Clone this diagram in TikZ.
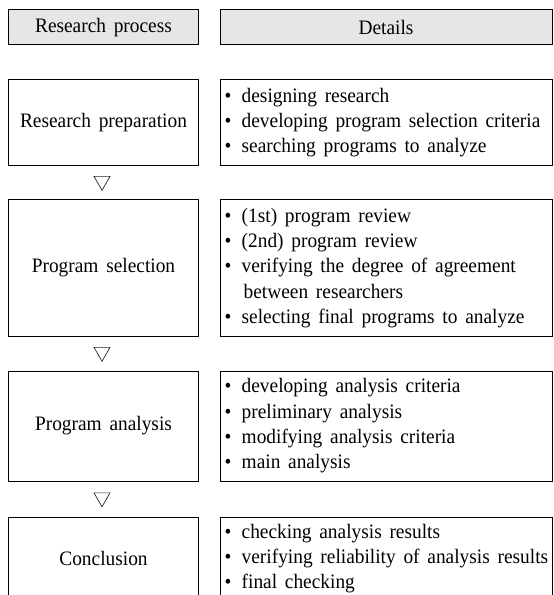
\documentclass[tikz,border=0pt]{standalone}
\usepackage{fontspec}
\setmainfont{Liberation Serif}[FakeStretch=0.945,WordSpace=1.6]
\usetikzlibrary{shapes.geometric,calc}
\definecolor{hdrfill}{RGB}{230,230,230}
\newcommand{\bul}{\makebox[17bp][l]{\textbullet}}
\newcommand{\cont}{\hspace*{19bp}}
\tikzset{
  txt/.style={font=\fontsize{20.5bp}{25.3bp}\selectfont},
  lbox/.style={draw, line width=1bp, minimum width=189bp, inner sep=0pt, txt, align=center},
  rbox/.style={draw, line width=1bp, minimum width=332bp, inner sep=0pt},
  rtxt/.style={anchor=west, inner sep=0pt, align=left, txt},
  hdr/.style={fill=hdrfill},
  tri/.style={draw=black!85, line width=0.7bp, regular polygon, regular polygon sides=3, shape border rotate=180, minimum size=18.5bp, inner sep=0pt}
}
\begin{document}
\begin{tikzpicture}[x=1bp,y=-1bp]
\useasboundingbox (0,0) rectangle (554,595);
\clip (0,0) rectangle (554,595);
% headers
\node[lbox, hdr, minimum height=35bp] (h1) at (103.5,27.5) {Research process};
\node[lbox, hdr, minimum width=332bp, minimum height=35bp] (h2) at (386,27.5) {Details};
% row 1
\node[lbox, minimum height=85bp] (b1) at (103.5,122.5) {Research preparation};
\node[rbox, minimum height=85bp] (d1) at (386,122.5) {};
\node[rtxt] (e1) at ($(d1.west)+(5,0)$) {\bul designing research\\
\bul developing program selection criteria\\
\bul searching programs to analyze};
% row 2
\node[lbox, minimum height=136bp] (b2) at (103.5,268) {Program selection};
\node[rbox, minimum height=136bp] (d2) at (386,268) {};
\node[rtxt] (e2) at ($(d2.west)+(5,0)$) {\bul (1st) program review\\
\bul (2nd) program review\\
\bul verifying the degree of agreement\\
\cont between researchers\\
\bul selecting final programs to analyze};
% row 3
\node[lbox, minimum height=110bp] (b3) at (103.5,426) {Program analysis};
\node[rbox, minimum height=110bp] (d3) at (386,426) {};
\node[rtxt] (e3) at ($(d3.west)+(5,0)$) {\bul developing analysis criteria\\
\bul preliminary analysis\\
\bul modifying analysis criteria\\
\bul main analysis};
% row 4
\node[lbox, minimum height=83bp] (b4) at (103.5,558.5) {Conclusion};
\node[rbox, minimum height=83bp] (d4) at (386,558.5) {};
\node[rtxt] (e4) at ($(d4.west)+(5,0)$) {\bul checking analysis results\\
\bul verifying reliability of analysis results\\
\bul final checking};
% triangles
\node[tri] (t1) at (102,181) {};
\node[tri] (t2) at (102,352) {};
\node[tri] (t3) at (102,497.5) {};
\end{tikzpicture}
\end{document}
